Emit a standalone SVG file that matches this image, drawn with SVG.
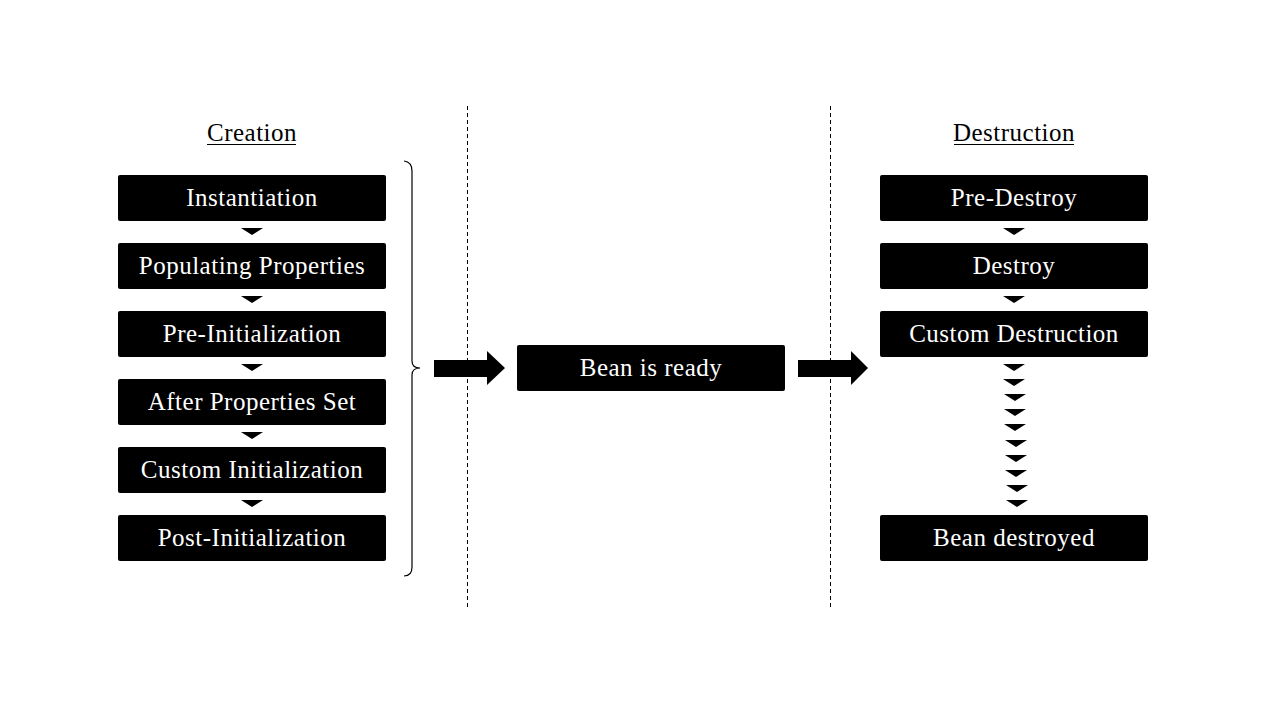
<svg xmlns="http://www.w3.org/2000/svg" width="1280" height="720" viewBox="0 0 1280 720">
<style>
.box{fill:#000}
.lbl{fill:#fff;font-family:"Liberation Serif","DejaVu Serif",serif;font-size:25px;letter-spacing:0.5px;text-anchor:middle}
.ttl{fill:#000;font-family:"Liberation Serif","DejaVu Serif",serif;font-size:25px;letter-spacing:0.5px;text-anchor:middle}
.dash{stroke:#000;stroke-width:1;stroke-dasharray:4,3;fill:none}
.tri{fill:#000}
</style>
<defs>
<polygon id="t" points="-11,0 11,0 0,7"/>
</defs>
<rect width="1280" height="720" fill="#fff"/>
<g id="separators">
<line class="dash" x1="467.5" y1="106" x2="467.5" y2="608"/>
<line class="dash" x1="830.5" y1="106" x2="830.5" y2="608"/>
</g>
<g id="title-creation">
<text class="ttl" x="252" y="141">Creation</text>
<line x1="207" y1="144.5" x2="296" y2="144.5" stroke="#000" stroke-width="1"/>
</g>
<g id="title-destruction">
<text class="ttl" x="1014" y="141">Destruction</text>
<line x1="954" y1="144.5" x2="1074" y2="144.5" stroke="#000" stroke-width="1"/>
</g>
<g id="n-instantiation"><rect class="box" x="118" y="175" width="268" height="46" rx="2"/><text class="lbl" x="252" y="206">Instantiation</text></g>
<g id="n-populating"><rect class="box" x="118" y="243" width="268" height="46" rx="2"/><text class="lbl" x="252" y="274">Populating Properties</text></g>
<g id="n-preinit"><rect class="box" x="118" y="311" width="268" height="46" rx="2"/><text class="lbl" x="252" y="342">Pre-Initialization</text></g>
<g id="n-afterprops"><rect class="box" x="118" y="379" width="268" height="46" rx="2"/><text class="lbl" x="252" y="410">After Properties Set</text></g>
<g id="n-custominit"><rect class="box" x="118" y="447" width="268" height="46" rx="2"/><text class="lbl" x="252" y="478">Custom Initialization</text></g>
<g id="n-postinit"><rect class="box" x="118" y="515" width="268" height="46" rx="2"/><text class="lbl" x="252" y="546">Post-Initialization</text></g>
<g id="n-ready"><rect class="box" x="517" y="345" width="268" height="46" rx="2"/><text class="lbl" x="651" y="376">Bean is ready</text></g>
<g id="n-predestroy"><rect class="box" x="880" y="175" width="268" height="46" rx="2"/><text class="lbl" x="1014" y="206">Pre-Destroy</text></g>
<g id="n-destroy"><rect class="box" x="880" y="243" width="268" height="46" rx="2"/><text class="lbl" x="1014" y="274">Destroy</text></g>
<g id="n-customdestr"><rect class="box" x="880" y="311" width="268" height="46" rx="2"/><text class="lbl" x="1014" y="342">Custom Destruction</text></g>
<g id="n-destroyed"><rect class="box" x="880" y="515" width="268" height="46" rx="2"/><text class="lbl" x="1014" y="546">Bean destroyed</text></g>
<g id="connectors">
<use href="#t" x="252" y="228"/>
<use href="#t" x="252" y="296"/>
<use href="#t" x="252" y="364"/>
<use href="#t" x="252" y="432"/>
<use href="#t" x="252" y="500"/>
<use href="#t" x="1014" y="228"/>
<use href="#t" x="1014" y="296"/>
<use href="#t" x="1014" y="364"/>
<use href="#t" x="1014" y="379"/>
<use href="#t" x="1015" y="394"/>
<use href="#t" x="1015" y="409"/>
<use href="#t" x="1015" y="424"/>
<use href="#t" x="1016" y="440"/>
<use href="#t" x="1016" y="455"/>
<use href="#t" x="1016" y="470"/>
<use href="#t" x="1017" y="485"/>
<use href="#t" x="1017" y="500"/>
<path d="M404,161 Q412,162 412,171 L412,361 Q412,368 420,368 Q412,368 412,375 L412,567 Q412,576 404,576" fill="none" stroke="#000" stroke-width="1.2"/>
<polygon points="434,360 487,360 487,351 505,368 487,385 487,377 434,377" fill="#000"/>
<polygon points="798,360 851,360 851,351 868,368 851,385 851,377 798,377" fill="#000"/>
</g>
</svg>
